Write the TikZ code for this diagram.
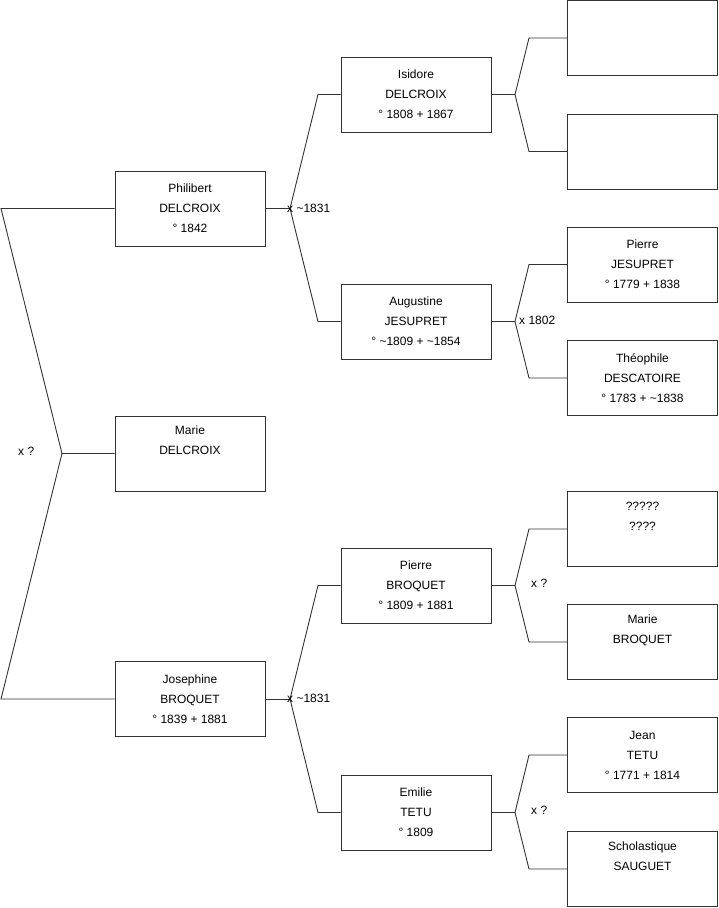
\documentclass[tikz,border=0pt]{standalone}
\usepackage{fontspec}
\setmainfont{Liberation Sans}
\begin{document}
\begin{tikzpicture}[x=1pt,y=-1pt,
  person/.style={draw=black!80, line width=0.9pt, fill=white, minimum width=150pt, minimum height=75pt,
    inner sep=0pt, align=center, font=\fontsize{12}{20}\selectfont, text=black},
  link/.style={draw=black!80, line width=0.9pt},
  lab/.style={font=\fontsize{12}{14}\selectfont, text=black, inner sep=0pt}]
\useasboundingbox (0,0) rectangle (719,908);
% generation 1
\node[person] (phil) at (190,208.5) {Philibert\\DELCROIX\\° 1842};
\node[person] (marie) at (190,453.5) {Marie\\DELCROIX\\\strut};
\node[person] (jos) at (190,699) {Josephine\\BROQUET\\° 1839 + 1881};
% generation 2
\node[person] (isid) at (416,94.5) {Isidore\\DELCROIX\\° 1808 + 1867};
\node[person] (aug) at (416,321.5) {Augustine\\JESUPRET\\° \textasciitilde 1809 + \textasciitilde 1854};
\node[person] (pbro) at (416,585.5) {Pierre\\BROQUET\\° 1809 + 1881};
\node[person] (emil) at (416,812.5) {Emilie\\TETU\\° 1809};
% generation 3
\node[person] (e1) at (642.5,38) {};
\node[person] (e2) at (642.5,151.5) {};
\node[person] (pjes) at (642.5,264.5) {Pierre\\JESUPRET\\° 1779 + 1838};
\node[person] (theo) at (642.5,378) {Théophile\\DESCATOIRE\\° 1783 + \textasciitilde 1838};
\node[person] (unk) at (642.5,529) {?????\\????\\\strut};
\node[person] (mbro) at (642.5,642) {Marie\\BROQUET\\\strut};
\node[person] (jean) at (642.5,755) {Jean\\TETU\\° 1771 + 1814};
\node[person] (scho) at (642.5,869) {Scholastique\\SAUGUET\\\strut};
% left bracket
\coordinate (la) at (1,208.5);
\coordinate (lm) at (62,453.5);
\coordinate (lb) at (1,699);
\draw[link] (phil.west) -- (la) -- (lm) -- (marie.west);
\draw[link] (lm) -- (lb) -- (jos.west);
\node[lab, anchor=west] (lx) at (18,451) {x ?};
% Philibert
\coordinate (j1) at (290,208.5);
\coordinate (j1a) at (318,94.5);
\coordinate (j1b) at (318,321.5);
\draw[link] (phil.east) -- (j1);
\draw[link] (isid.west) -- (j1a) -- (j1) -- (j1b) -- (aug.west);
\node[lab, anchor=west] (l1) at (287,208) {x \textasciitilde 1831};
% Josephine
\coordinate (j2) at (290,699);
\coordinate (j2a) at (318,585.5);
\coordinate (j2b) at (318,812.5);
\draw[link] (jos.east) -- (j2);
\draw[link] (pbro.west) -- (j2a) -- (j2) -- (j2b) -- (emil.west);
\node[lab, anchor=west] (l2) at (287,698) {x \textasciitilde 1831};
% Isidore
\coordinate (j3) at (515,94.5);
\coordinate (j3a) at (529,38);
\coordinate (j3b) at (529,151.5);
\draw[link] (isid.east) -- (j3);
\draw[link] (e1.west) -- (j3a) -- (j3) -- (j3b) -- (e2.west);
% Augustine
\coordinate (j4) at (515,321.5);
\coordinate (j4a) at (529,264.5);
\coordinate (j4b) at (529,378);
\draw[link] (aug.east) -- (j4);
\draw[link] (pjes.west) -- (j4a) -- (j4) -- (j4b) -- (theo.west);
\node[lab, anchor=west] (l4) at (519,320) {x 1802};
% Pierre Broquet
\coordinate (j5) at (515,585.5);
\coordinate (j5a) at (529,529);
\coordinate (j5b) at (529,642);
\draw[link] (pbro.east) -- (j5);
\draw[link] (unk.west) -- (j5a) -- (j5) -- (j5b) -- (mbro.west);
\node[lab, anchor=west] (l5) at (531,583) {x ?};
% Emilie
\coordinate (j6) at (515,812.5);
\coordinate (j6a) at (529,755);
\coordinate (j6b) at (529,869);
\draw[link] (emil.east) -- (j6);
\draw[link] (jean.west) -- (j6a) -- (j6) -- (j6b) -- (scho.west);
\node[lab, anchor=west] (l6) at (531,810) {x ?};
\end{tikzpicture}
\end{document}
